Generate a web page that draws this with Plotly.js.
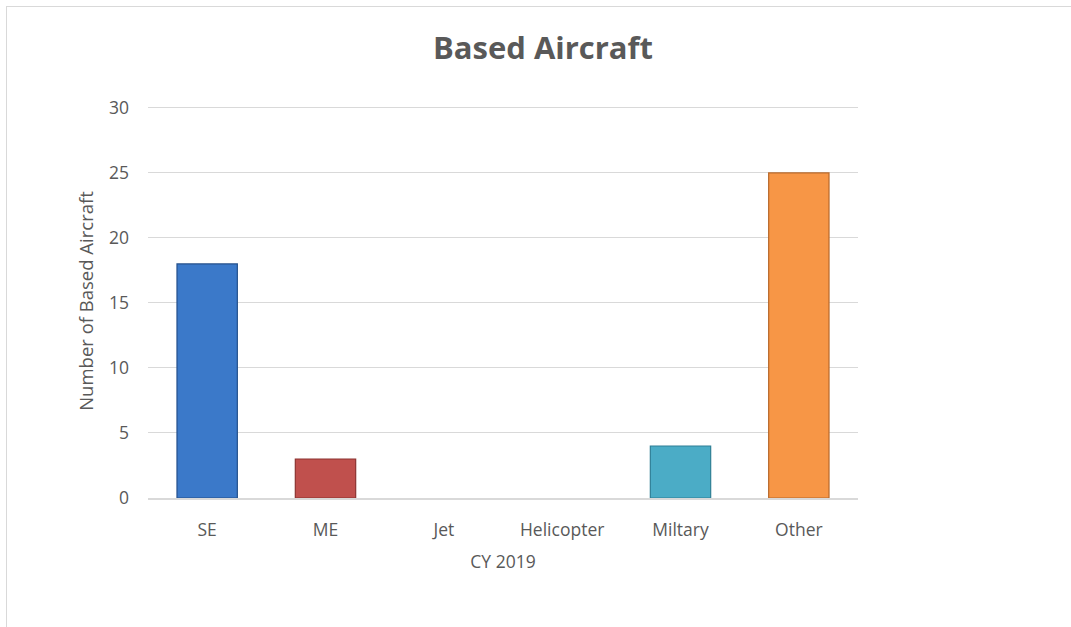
<!DOCTYPE html>
<html>
<head>
<meta charset="utf-8">
<script src="https://cdn.plot.ly/plotly-3.0.1.min.js"></script>
<style>
  html, body { margin: 0; padding: 0; background: #ffffff; }
  #frame { position: absolute; left: 6px; top: 6px; width: 1070px; height: 625px;
           border-left: 1px solid #d9d9d9; border-top: 1px solid #d9d9d9; }
  #chart { position: absolute; left: 0; top: 0; width: 1071px; height: 627px; }
</style>
</head>
<body>
<div id="frame"></div>
<div id="chart"></div>
<script>
const categories = ["SE", "ME", "Jet", "Helicopter", "Miltary", "Other"];
const values = [18, 3, 0, 0, 4, 25];
const barColors = ["#3b79c9", "#c0504d", "#8064a2", "#9bbb59", "#4bacc6", "#f79646"];
const barEdges = ["#24508c", "#8c3331", "#5c4776", "#6f8a3c", "#2f7f95", "#b8682a"];
const yTicks = [0, 5, 10, 15, 20, 25, 30];

const trace = {
  type: "bar",
  x: categories,
  y: values,
  marker: { color: barColors, line: { color: barEdges, width: values.map(v => v > 0 ? 1.2 : 0) } },
  hoverinfo: "x+y"
};

const font = "Open Sans, Noto Sans, sans-serif";
const layout = {
  width: 1071,
  height: 627,
  margin: { l: 148, r: 213, t: 104, b: 129 },
  paper_bgcolor: "rgba(0,0,0,0)",
  plot_bgcolor: "rgba(0,0,0,0)",
  bargap: 0.49,
  showlegend: false,
  title: {
    text: "<b>Based Aircraft</b>",
    font: { family: font, size: 31, color: "#595959" },
    x: 0.507, xanchor: "center",
    y: 0.923, yanchor: "middle"
  },
  xaxis: {
    type: "category",
    showgrid: false,
    showline: true,
    linecolor: "#d9d9d9",
    linewidth: 2,
    ticks: "",
    ticklabelstandoff: 15,
    tickfont: { family: font, size: 17.5, color: "#595959" },
    title: { text: "CY 2019", font: { family: font, size: 17.5, color: "#595959" }, standoff: 16 },
    fixedrange: true
  },
  yaxis: {
    range: [0, 30.3],
    tickvals: yTicks,
    ticktext: yTicks.map(String),
    showgrid: true,
    gridcolor: "#d9d9d9",
    gridwidth: 1,
    zeroline: false,
    showline: false,
    ticks: "",
    ticklabelstandoff: 18,
    tickfont: { family: font, size: 17.5, color: "#595959" },
    title: { text: "Number of Based Aircraft", font: { family: font, size: 18.5, color: "#595959" }, standoff: 10 },
    fixedrange: true
  }
};

Plotly.newPlot("chart", [trace], layout, { displayModeBar: false, staticPlot: true });
</script>
</body>
</html>
